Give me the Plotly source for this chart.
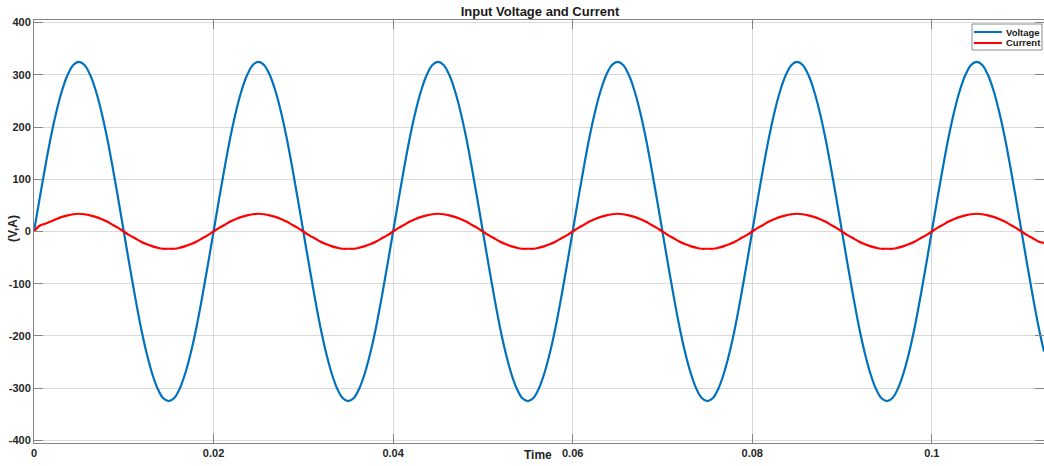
import plotly.graph_objects as go

# sampling step of the recorded waveforms (s)
SAMPLE_STEP = 0.000625
N_SAMPLES = 181
time_s = [round(i * SAMPLE_STEP, 6) for i in range(N_SAMPLES)]

voltage = [
    0, 63, 124, 181, 230, 270, 300, 319, 325, 319, 300, 270, 230, 181, 124, 63,
    0, -63, -124, -181, -230, -270, -300, -319, -325, -319, -300, -270, -230, -181, -124, -63,
    0, 63, 124, 181, 230, 270, 300, 319, 325, 319, 300, 270, 230, 181, 124, 63,
    0, -63, -124, -181, -230, -270, -300, -319, -325, -319, -300, -270, -230, -181, -124, -63,
    0, 63, 124, 181, 230, 270, 300, 319, 325, 319, 300, 270, 230, 181, 124, 63,
    0, -63, -124, -181, -230, -270, -300, -319, -325, -319, -300, -270, -230, -181, -124, -63,
    0, 63, 124, 181, 230, 270, 300, 319, 325, 319, 300, 270, 230, 181, 124, 63,
    0, -63, -124, -181, -230, -270, -300, -319, -325, -319, -300, -270, -230, -181, -124, -63,
    0, 63, 124, 181, 230, 270, 300, 319, 325, 319, 300, 270, 230, 181, 124, 63,
    0, -63, -124, -181, -230, -270, -300, -319, -325, -319, -300, -270, -230, -181, -124, -63,
    0, 63, 124, 181, 230, 270, 300, 319, 325, 319, 300, 270, 230, 181, 124, 63,
    0, -63, -124, -181, -230,
]

current = [
    0, 11, 15, 19, 24, 28, 31, 33, 34, 33, 31, 28, 24, 19, 13, 7,
    0, -7, -13, -19, -24, -28, -31, -33, -33, -33, -31, -28, -24, -19, -13, -7,
    0, 7, 13, 19, 24, 28, 31, 33, 34, 33, 31, 28, 24, 19, 13, 7,
    0, -7, -13, -19, -24, -28, -31, -33, -33, -33, -31, -28, -24, -19, -13, -7,
    0, 7, 13, 19, 24, 28, 31, 33, 34, 33, 31, 28, 24, 19, 13, 7,
    0, -7, -13, -19, -24, -28, -31, -33, -33, -33, -31, -28, -24, -19, -13, -7,
    0, 7, 13, 19, 24, 28, 31, 33, 34, 33, 31, 28, 24, 19, 13, 7,
    0, -7, -13, -19, -24, -28, -31, -33, -33, -33, -31, -28, -24, -19, -13, -7,
    0, 7, 13, 19, 24, 28, 31, 33, 34, 33, 31, 28, 24, 19, 13, 7,
    0, -7, -13, -19, -24, -28, -31, -33, -33, -33, -31, -28, -24, -19, -13, -7,
    0, 7, 13, 19, 24, 28, 31, 33, 34, 33, 31, 28, 24, 19, 13, 7,
    0, -7, -13, -19, -22,
]

series_names = ["Voltage", "Current"]
series_colors = ["#0072BD", "#FF0000"]

x_ticks = [0, 0.02, 0.04, 0.06, 0.08, 0.1]
x_tick_labels = ["0", "0.02", "0.04", "0.06", "0.08", "0.1"]
y_ticks = [-400, -300, -200, -100, 0, 100, 200, 300, 400]
y_tick_labels = ["-400", "-300", "-200", "-100", "0", "100", "200", "300", "400"]

FONT = "Liberation Sans, Arial, sans-serif"

fig = go.Figure()
for name, ys, col in zip(series_names, [voltage, current], series_colors):
    fig.add_trace(go.Scatter(x=time_s, y=ys, name=name, mode="lines",
                             line=dict(color=col, width=2.2, shape="spline", smoothing=1.0),
                             showlegend=False))

axis_common = dict(
    showgrid=True, gridcolor="#D9D9D9", gridwidth=1,
    showline=True, linecolor="#858585", linewidth=1, mirror="allticks",
    ticks="inside", ticklen=9, tickcolor="#858585",
    tickfont=dict(family=FONT, size=11, color="#262626", weight="bold"),
    zeroline=False,
)

fig.update_layout(
    width=1044, height=466,
    margin=dict(l=34, r=0, t=20, b=23),
    paper_bgcolor="white", plot_bgcolor="white",
    title=dict(text="Input Voltage and Current", x=(540 / 1044), xanchor="center",
               y=1 - 11 / 466, yanchor="middle",
               font=dict(family=FONT, size=13, color="#1a1a1a", weight="bold")),
    showlegend=False,
    xaxis=dict(range=[0, 0.1125], tickvals=x_ticks, ticktext=x_tick_labels, **axis_common),
    yaxis=dict(range=[-405, 405], tickvals=y_ticks, ticktext=y_tick_labels, **axis_common),
)

# axis titles
PW, PH = 1010.0, 423.0
fig.add_annotation(text="Time", xref="paper", yref="paper", x=(538 - 34) / PW, y=-(455 - 443) / PH,
                   xanchor="center", yanchor="middle", showarrow=False,
                   font=dict(family=FONT, size=12, color="#262626", weight="bold"))
fig.add_annotation(text="(V,A)", xref="paper", yref="paper", x=(13 - 34) / PW, y=(443 - 229) / PH,
                   xanchor="center", yanchor="middle", showarrow=False, textangle=-90,
                   font=dict(family=FONT, size=12, color="#262626", weight="bold"))

# compact MATLAB-style legend box (pixel positions converted to paper coords)
def px(xp):
    return (xp - 34) / PW

def py(yp):
    return (443 - yp) / PH

fig.add_shape(type="rect", xref="paper", yref="paper",
              x0=px(972), x1=px(1042), y0=py(50), y1=py(24),
              line=dict(color="#8C8C8C", width=1), fillcolor="white", layer="above")
for i, (name, col) in enumerate(zip(series_names, series_colors)):
    yy = 32 + i * 11
    fig.add_shape(type="line", xref="paper", yref="paper",
                  x0=px(974), x1=px(1002), y0=py(yy), y1=py(yy),
                  line=dict(color=col, width=2), layer="above")
    fig.add_annotation(text=name, xref="paper", yref="paper", x=px(1004), y=py(yy),
                       xanchor="left", yanchor="middle", showarrow=False,
                       font=dict(family=FONT, size=9.5, color="#1a1a1a", weight="bold"))

fig.write_html("out.html")
